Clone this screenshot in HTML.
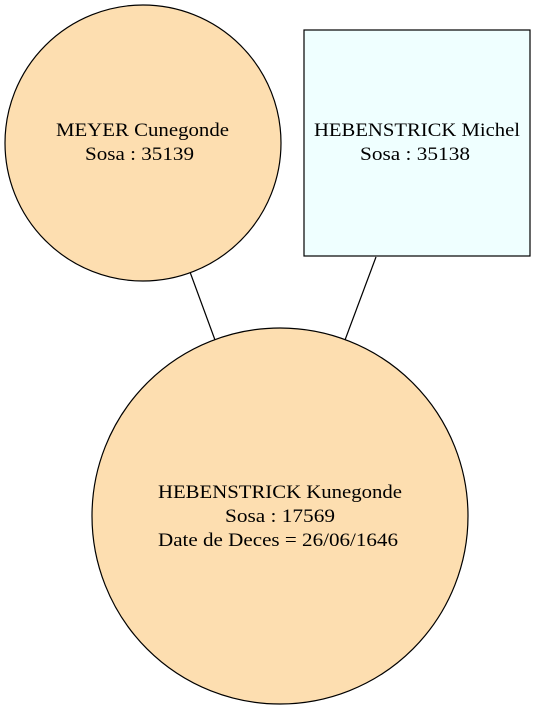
<!DOCTYPE html>
<html><head><meta charset="utf-8"><style>
html,body{margin:0;padding:0;background:#fff;}
svg{display:block;}
text{font-family:"Liberation Serif",serif;font-size:19px;fill:#000;}
</style></head><body>
<svg width="536" height="711" viewBox="0 0 536 711" xmlns="http://www.w3.org/2000/svg">
<rect width="536" height="711" fill="#fff"/>
<line x1="190" y1="272" x2="215" y2="340" stroke="#000" stroke-width="1.2"/>
<line x1="376" y1="257" x2="345" y2="340" stroke="#000" stroke-width="1.2"/>
<circle cx="143" cy="143" r="138" fill="#fddeb0" stroke="#000" stroke-width="1.2"/>
<text x="56" y="136" textLength="173" lengthAdjust="spacingAndGlyphs">MEYER Cunegonde</text>
<text x="85" y="160" textLength="109" lengthAdjust="spacingAndGlyphs">Sosa : 35139</text>
<rect x="304" y="30" width="226" height="226" fill="#efffff" stroke="#000" stroke-width="1.2"/>
<text x="314" y="136" textLength="206" lengthAdjust="spacingAndGlyphs">HEBENSTRICK Michel</text>
<text x="360" y="160" textLength="110" lengthAdjust="spacingAndGlyphs">Sosa : 35138</text>
<circle cx="280" cy="516" r="188" fill="#fddeb0" stroke="#000" stroke-width="1.2"/>
<text x="158" y="498" textLength="244" lengthAdjust="spacingAndGlyphs">HEBENSTRICK Kunegonde</text>
<text x="225" y="522" textLength="110" lengthAdjust="spacingAndGlyphs">Sosa : 17569</text>
<text x="158" y="546" textLength="240" lengthAdjust="spacingAndGlyphs">Date de Deces = 26/06/1646</text>
</svg>
</body></html>
